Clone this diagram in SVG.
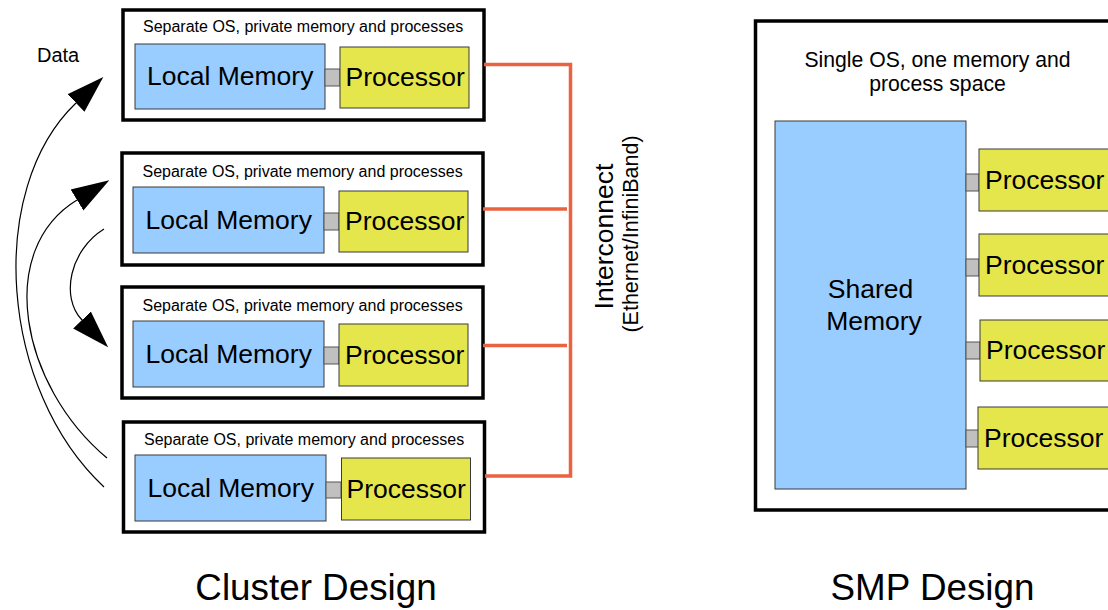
<svg xmlns="http://www.w3.org/2000/svg" width="1108" height="610" viewBox="0 0 1108 610">
<style>
  text { font-family: "Liberation Sans", Arial, sans-serif; fill: #000; }
  .frame { fill: #fff; stroke: #000; stroke-width: 3.5; }
  .mem { fill: #99CCFF; stroke: #3a3a3a; stroke-width: 1; }
  .proc { fill: #E5E64C; stroke: #3a3a3a; stroke-width: 1; }
  .link { fill: #C0C0C0; stroke: #555; stroke-width: 1; }
  .os { font-size: 16px; }
  .big { font-size: 26.5px; }
  .title { font-size: 36.8px; }
  .net { fill: none; stroke: #EA6240; stroke-width: 3.5; }
  .data { fill: none; stroke: #000; stroke-width: 1.2; }
</style>
<defs>
  <marker id="head" markerUnits="userSpaceOnUse" markerWidth="40" markerHeight="30" refX="0" refY="0" viewBox="0 -12 36 24" orient="auto">
    <path d="M0,-11 L34,0 L0,11 Z" fill="#000"/>
  </marker>
</defs>

<g id="node1">
  <rect class="frame" x="123" y="10" width="361" height="110"/>
  <text class="os" x="143" y="32">Separate OS, private memory and processes</text>
  <rect class="mem" x="135" y="44" width="190" height="65"/>
  <text class="big" x="147" y="85">Local Memory</text>
  <rect class="link" x="325" y="69" width="15" height="17"/>
  <rect class="proc" x="340" y="47" width="129" height="61"/>
  <text class="big" x="345.5" y="86">Processor</text>
</g>
<g id="node2">
  <rect class="frame" x="122" y="153" width="361" height="112"/>
  <text class="os" x="142.5" y="177">Separate OS, private memory and processes</text>
  <rect class="mem" x="133" y="187" width="191" height="66"/>
  <text class="big" x="145.5" y="229">Local Memory</text>
  <rect class="link" x="324" y="213" width="15" height="17"/>
  <rect class="proc" x="339" y="191" width="129" height="61"/>
  <text class="big" x="345" y="230">Processor</text>
</g>
<g id="node3">
  <rect class="frame" x="122" y="287" width="361" height="111"/>
  <text class="os" x="142.5" y="311">Separate OS, private memory and processes</text>
  <rect class="mem" x="133" y="321" width="191" height="66"/>
  <text class="big" x="145.5" y="363">Local Memory</text>
  <rect class="link" x="324" y="347" width="15" height="17"/>
  <rect class="proc" x="339" y="324" width="129" height="62"/>
  <text class="big" x="345" y="364">Processor</text>
</g>
<g id="node4">
  <rect class="frame" x="123.5" y="422" width="361" height="110"/>
  <text class="os" x="144" y="445">Separate OS, private memory and processes</text>
  <rect class="mem" x="135" y="455" width="191" height="66"/>
  <text class="big" x="147.5" y="497">Local Memory</text>
  <rect class="link" x="326" y="482" width="15" height="16"/>
  <rect class="proc" x="341.5" y="458" width="129" height="62"/>
  <text class="big" x="346.5" y="498">Processor</text>
</g>

<g id="smp">
  <rect class="frame" x="755.5" y="21" width="370" height="489"/>
  <text x="937.5" y="66.5" font-size="21.2" text-anchor="middle">Single OS, one memory and</text>
  <text x="937.5" y="91" font-size="21.2" text-anchor="middle">process space</text>
  <rect class="mem" x="775" y="121" width="191" height="368"/>
  <text class="big" x="870.5" y="298" text-anchor="middle">Shared</text>
  <text class="big" x="874" y="330" text-anchor="middle">Memory</text>
  <rect class="link" x="966" y="174" width="13" height="17"/>
  <rect class="proc" x="979" y="149" width="140" height="62"/>
  <text class="big" x="985" y="189">Processor</text>
  <rect class="link" x="966" y="259" width="13" height="17"/>
  <rect class="proc" x="979" y="234" width="140" height="62"/>
  <text class="big" x="985" y="274">Processor</text>
  <rect class="link" x="966" y="342" width="14" height="17"/>
  <rect class="proc" x="980" y="320" width="140" height="61"/>
  <text class="big" x="986" y="359">Processor</text>
  <rect class="link" x="966" y="430" width="13" height="17"/>
  <rect class="proc" x="978" y="407" width="140" height="62"/>
  <text class="big" x="984" y="447">Processor</text>
</g>

<g id="connectors">
  <path class="net" d="M484,64.5 H570.5 V476 H485"/>
  <path class="net" d="M483,209 H567"/>
  <path class="net" d="M483,345.5 H567"/>
  <path class="data" d="M104,487 C0,390 -15,190 76,103" marker-end="url(#head)"/>
  <path class="data" d="M107,458 C20,385 -5,250 77,200" marker-end="url(#head)"/>
  <path class="data" d="M104,229 C70,250 60,297 82,320" marker-end="url(#head)"/>
</g>

<g id="labels">
  <text x="37" y="62" font-size="20">Data</text>
  <text x="0" y="0" font-size="26.5" text-anchor="middle" transform="translate(613,236.5) rotate(-90)">Interconnect</text>
  <text x="0" y="0" font-size="21.5" text-anchor="middle" transform="translate(638,234) rotate(-90)">(Ethernet/InfiniBand)</text>
  <text class="title" x="316" y="600" text-anchor="middle">Cluster Design</text>
  <text class="title" x="932.5" y="600" text-anchor="middle" font-size="36.3">SMP Design</text>
</g>
</svg>
